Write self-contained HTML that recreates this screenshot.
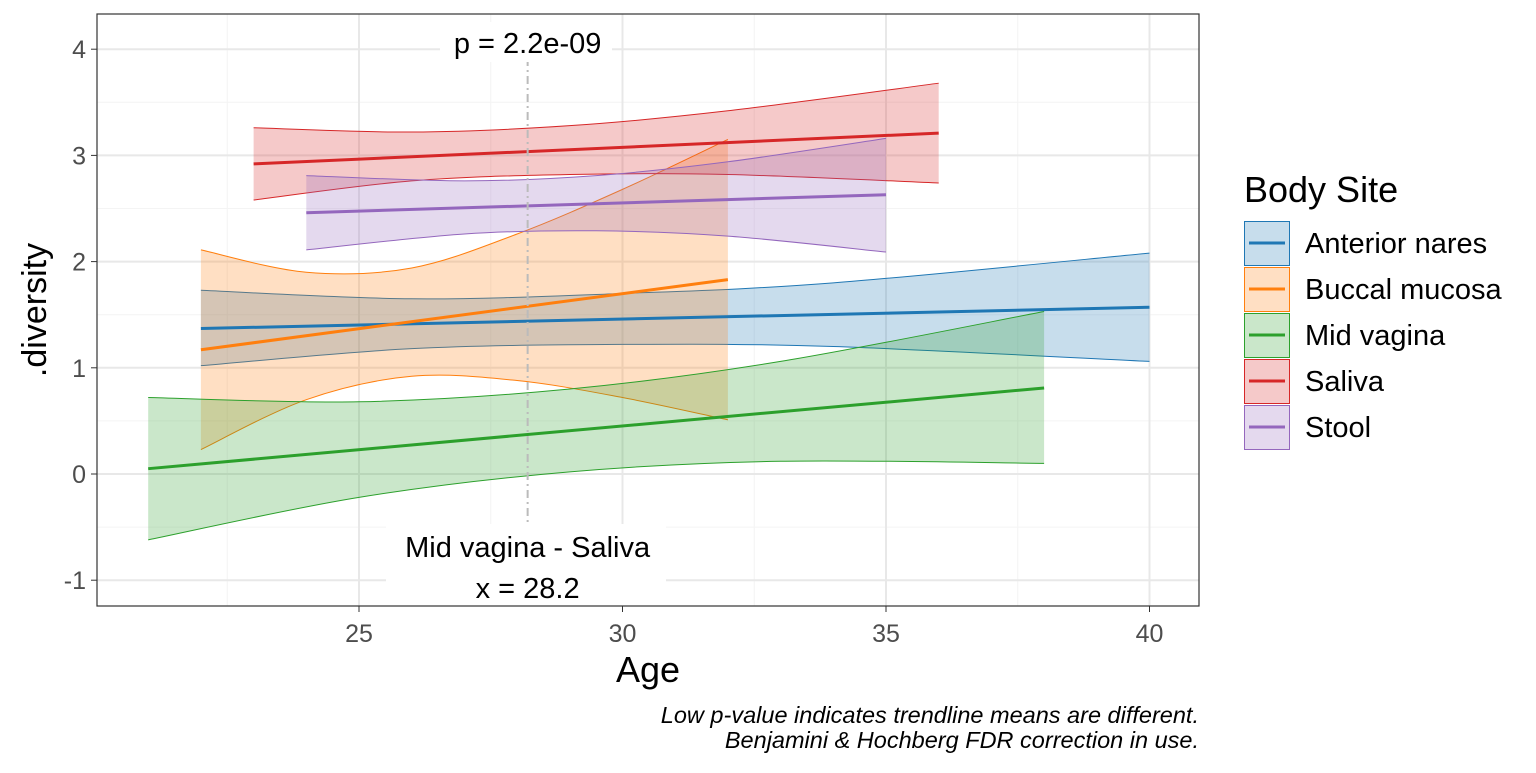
<!DOCTYPE html>
<html><head><meta charset="utf-8"><style>
body{margin:0;background:#fff;font-family:"Liberation Sans",Arial,sans-serif}
svg text{font-family:"Liberation Sans",Arial,sans-serif}
</style></head><body>
<svg id="c" width="1536" height="768" xmlns="http://www.w3.org/2000/svg"></svg>
<script>
const seriesNames=["Anterior nares","Buccal mucosa","Mid vagina","Saliva","Stool"];
const colors=["#1f77b4","#ff7f0e","#2ca02c","#d62728","#9467bd"];
const agesAN=[22,26,30,34,40], fitAN=[1.37,1.41,1.46,1.50,1.57], lowAN=[1.02,1.18,1.22,1.20,1.06], upAN=[1.73,1.65,1.70,1.80,2.08];
const agesBM=[22,24,26,28,30,32], fitBM=[1.17,1.30,1.43,1.57,1.70,1.83], lowBM=[0.23,0.70,0.92,0.88,0.72,0.51], upBM=[2.11,1.90,1.94,2.26,2.68,3.15];
const agesMV=[21,25,29,33,38], fitMV=[0.05,0.23,0.41,0.59,0.81], lowMV=[-0.62,-0.22,0.02,0.12,0.10], upMV=[0.72,0.68,0.80,1.06,1.53];
const agesSA=[23,26,29,32,36], fitSA=[2.92,2.99,3.05,3.12,3.21], lowSA=[2.58,2.76,2.82,2.82,2.74], upSA=[3.26,3.22,3.28,3.42,3.68];
const agesST=[24,27,29.5,32,35], fitST=[2.46,2.51,2.55,2.59,2.63], lowST=[2.11,2.26,2.29,2.24,2.09], upST=[2.81,2.76,2.81,2.94,3.16];
const xTicks=[25,30,35,40], yTicks=[-1,0,1,2,3,4];
const vlineX=28.2;
const S=document.getElementById('c'),NS="http://www.w3.org/2000/svg";
const X=v=>359+(v-25)*52.7, Y=v=>474-v*106.2;
function el(t,a,p){const e=document.createElementNS(NS,t);for(const k in a)e.setAttribute(k,a[k]);(p||S).appendChild(e);return e;}
function smooth(pts){let d="M"+pts[0][0]+","+pts[0][1];for(let i=0;i<pts.length-1;i++){const p0=pts[i-1]||pts[i],p1=pts[i],p2=pts[i+1],p3=pts[i+2]||p2;d+=" C"+(p1[0]+(p2[0]-p0[0])/6)+","+(p1[1]+(p2[1]-p0[1])/6)+" "+(p2[0]-(p3[0]-p1[0])/6)+","+(p2[1]-(p3[1]-p1[1])/6)+" "+p2[0]+","+p2[1];}return d;}
for(let i=0;i<yTicks.length-1;i++){const m=el('line',{x1:97,x2:1199,y1:Y(yTicks[i]+0.5),y2:Y(yTicks[i]+0.5),stroke:'#f4f4f4','stroke-width':1});}
for(const v of [22.5,27.5,32.5,37.5]){const m=el('line',{x1:X(v),x2:X(v),y1:14,y2:606,stroke:'#f4f4f4','stroke-width':1});}
yTicks.forEach(v=>{const g=el('line',{x1:97,x2:1199,y1:Y(v),y2:Y(v),stroke:'#e8e8e8','stroke-width':2});
const t=el('text',{x:86,y:Y(v)+9,'text-anchor':'end','font-size':25,fill:'#4d4d4d'});t.textContent=v;
el('line',{x1:91,x2:97,y1:Y(v),y2:Y(v),stroke:'#333'});});
xTicks.forEach(v=>{const g=el('line',{x1:X(v),x2:X(v),y1:14,y2:606,stroke:'#e8e8e8','stroke-width':2});
const t=el('text',{x:X(v),y:642,'text-anchor':'middle','font-size':25,fill:'#4d4d4d'});t.textContent=v;
el('line',{x1:X(v),x2:X(v),y1:606,y2:612,stroke:'#333'});});
const data=[[agesAN,fitAN,lowAN,upAN],[agesBM,fitBM,lowBM,upBM],[agesMV,fitMV,lowMV,upMV],[agesSA,fitSA,lowSA,upSA],[agesST,fitST,lowST,upST]];
data.forEach((s,i)=>{const [a,f,lo,up]=s;
const lp=a.map((x,j)=>[X(x),Y(lo[j])]),upp=a.map((x,j)=>[X(x),Y(up[j])]);
const upr=upp.slice().reverse();
const su=smooth(upr);
const d=smooth(lp)+" L"+upr[0][0]+","+upr[0][1]+su.slice(su.indexOf(" C"))+" Z";
const r=el('path',{d:d,fill:colors[i],'fill-opacity':0.25,stroke:'none'});
const e1=el('path',{d:smooth(lp),fill:'none',stroke:colors[i],'stroke-width':1});
const e2=el('path',{d:smooth(upp),fill:'none',stroke:colors[i],'stroke-width':1});
});
data.forEach((s,i)=>{const [a,f]=s;const n=a.length-1;
const l=el('line',{x1:X(a[0]),y1:Y(f[0]),x2:X(a[n]),y2:Y(f[n]),stroke:colors[i],'stroke-width':3});});
const vl=el('line',{x1:X(vlineX),x2:X(vlineX),y1:40,y2:530,stroke:'#bbb','stroke-width':2,'stroke-dasharray':'8,4,2,4'});
el('rect',{x:440,y:22,width:172,height:40,fill:'#fff'});
const pt=el('text',{x:X(vlineX),y:53,'text-anchor':'middle','font-size':29,fill:'#000'});pt.textContent="p = 2.2e-09";
el('rect',{x:386,y:524,width:280,height:82,fill:'#fff'});
const b1=el('text',{x:X(vlineX),y:557,'text-anchor':'middle','font-size':29});b1.textContent="Mid vagina - Saliva";
const b2=el('text',{x:X(vlineX),y:598,'text-anchor':'middle','font-size':29});b2.textContent="x = 28.2";
const pb=el('rect',{x:97,y:14,width:1102,height:592,fill:'none',stroke:'#333','stroke-width':1.2});
const xt=el('text',{x:648,y:682,'text-anchor':'middle','font-size':36});xt.textContent="Age";
const yt=el('text',{x:46,y:310,'text-anchor':'middle','font-size':34,transform:'rotate(-90 46 310)'});yt.textContent=".diversity";
const lt=el('text',{x:1244,y:202,'font-size':36});lt.textContent="Body Site";
seriesNames.forEach((n,i)=>{const y=221+i*46;const g=el('g',{});
el('rect',{x:1244.5,y:y+0.5,width:45,height:44,fill:colors[i],'fill-opacity':0.25,stroke:colors[i],'stroke-width':1},g);
el('line',{x1:1249,x2:1285,y1:y+22,y2:y+22,stroke:colors[i],'stroke-width':3},g);
const t=el('text',{x:1305,y:y+32,'font-size':29},g);t.textContent=n;});
const c1=el('text',{x:1199,y:723,'text-anchor':'end','font-size':23.5,'font-style':'italic'});c1.textContent="Low p-value indicates trendline means are different.";
const c2=el('text',{x:1199,y:748,'text-anchor':'end','font-size':23.5,'font-style':'italic'});c2.textContent="Benjamini & Hochberg FDR correction in use.";
</script></body></html>
